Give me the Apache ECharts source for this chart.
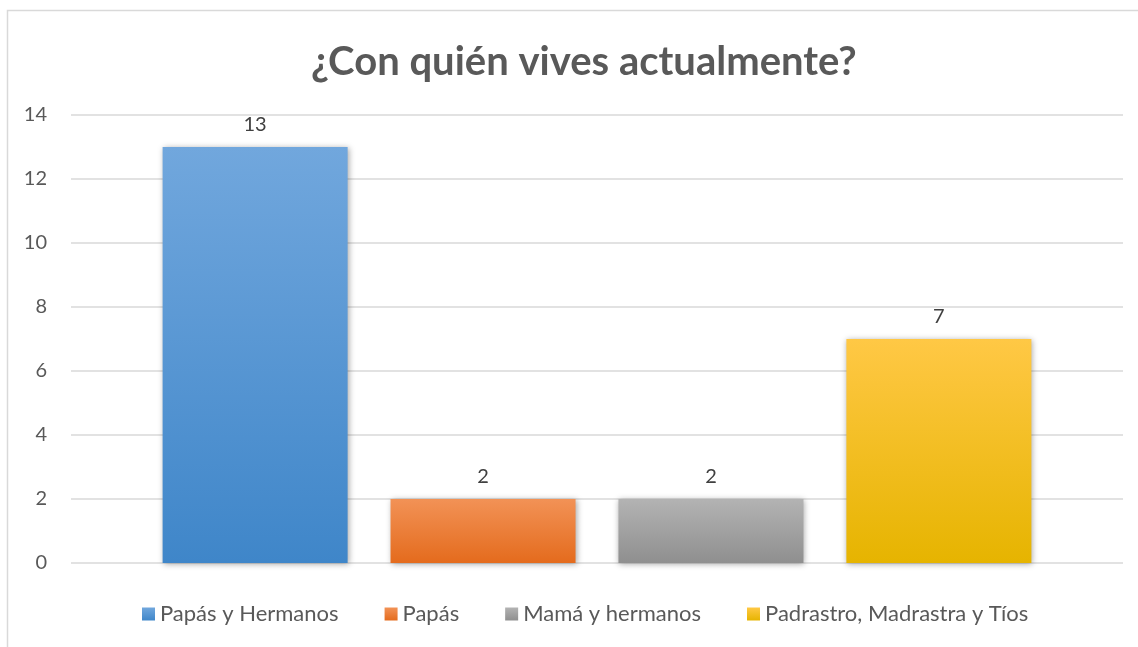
<!DOCTYPE html>
<html>
<head>
<meta charset="utf-8">
<script src="https://cdn.jsdelivr.net/npm/echarts@6/dist/echarts.min.js"></script>
<style>html,body{margin:0;padding:0;background:#fff;}#c{width:1138px;height:647px;}</style>
</head>
<body>
<div id="c"></div>
<script>
const titleText = '¿Con quién vives actualmente?';
const categories = [''];
const seriesNames = ['Papás y Hermanos', 'Papás', 'Mamá y hermanos', 'Padrastro, Madrastra y Tíos'];
const seriesValues = [13, 2, 2, 7];
const yTicks = { min: 0, max: 14, interval: 2 };
const gradients = [
  ['#71a7dd', '#3f86c9'],
  ['#f29256', '#e46b1d'],
  ['#b3b3b3', '#8f8f8f'],
  ['#ffc845', '#e6b400']
];

const chart = echarts.init(document.getElementById('c'), null, { renderer: 'canvas' });
const FONT = 'Lato';
const series = seriesNames.map((name, i) => ({
  name: name,
  type: 'bar',
  data: [seriesValues[i]],
  barWidth: 185,
  barGap: '23.2%',
  itemStyle: {
    color: new echarts.graphic.LinearGradient(0, 0, 0, 1, [
      { offset: 0, color: gradients[i][0] },
      { offset: 1, color: gradients[i][1] }
    ]),
    shadowColor: 'rgba(0,0,0,0.35)',
    shadowBlur: 6,
    shadowOffsetX: 1,
    shadowOffsetY: 1
  },
  label: {
    show: true,
    position: 'top',
    distance: 12,
    color: '#404040',
    fontFamily: FONT,
    fontSize: 20
  }
}));

chart.setOption({
  animation: false,
  backgroundColor: '#fff',
  graphic: [{
    type: 'rect',
    shape: { x: 7.5, y: 10.5, width: 1200, height: 700 },
    style: { fill: 'none', stroke: '#d9d9d9', lineWidth: 1.5 },
    silent: true,
    z: -1
  }],
  title: {
    text: titleText,
    left: 306,
    top: 37,
    textStyle: { fontFamily: FONT, fontSize: 40, fontWeight: 'bold', color: '#595959' }
  },
  legend: {
    bottom: 17,
    left: 137,
    itemWidth: 13,
    itemHeight: 13,
    itemGap: 46,
    icon: 'rect',
    textStyle: { fontFamily: FONT, fontSize: 22, color: '#595959' },
    data: seriesNames
  },
  grid: { left: 71, right: 15, top: 115, bottom: 84, containLabel: false },
  xAxis: {
    type: 'category',
    data: categories,
    axisLine: { show: false },
    axisTick: { show: false },
    axisLabel: { show: false }
  },
  yAxis: {
    type: 'value',
    min: yTicks.min,
    max: yTicks.max,
    interval: yTicks.interval,
    axisLine: { show: false },
    axisTick: { show: false },
    axisLabel: { fontFamily: FONT, fontSize: 20, color: '#595959', margin: 24 },
    splitLine: { lineStyle: { color: '#d9d9d9', width: 1.5 } }
  },
  series: series
});
</script>
</body>
</html>
